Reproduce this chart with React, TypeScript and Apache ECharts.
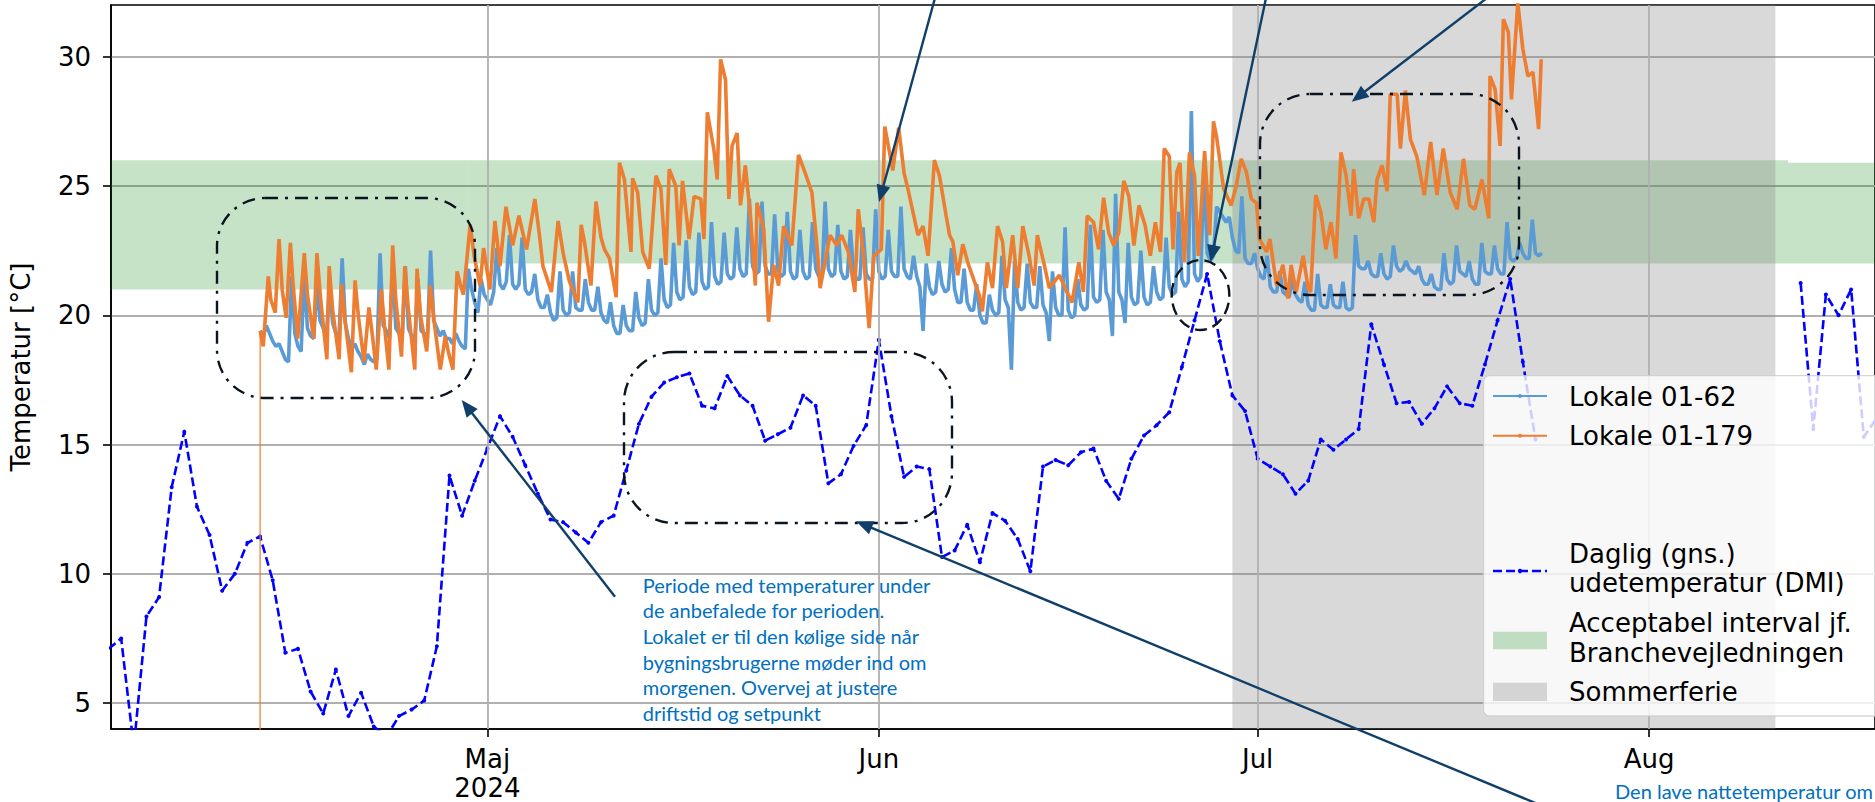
import React, { useEffect, useRef } from "react";
import * as echarts from "echarts";

// ---------- DATA ----------
// Daily mean outdoor temperature (DMI), first segment from 2024-04-01, second from 2024-08-13
const DMI_SEG1_START = [2024, 3, 1];
const DMI_SEG1 = [
  7.1, 7.5, 3.3, 8.35, 9.1, 13.35, 15.5, 12.6, 11.5, 9.35,
  10.0, 11.2, 11.45, 9.75, 6.95, 7.1, 5.45, 4.6, 6.3, 4.5,
  5.4, 4.1, 3.7, 4.5, 4.75, 5.1, 7.2, 13.8, 12.25, 13.6,
  14.85, 16.1, 15.3, 14.2, 13.1, 12.1, 12.0, 11.6, 11.2, 12.0,
  12.25, 14.0, 15.8, 16.85, 17.4, 17.6, 17.75, 16.5, 16.4, 17.65,
  16.9, 16.5, 15.15, 15.4, 15.65, 16.9, 16.5, 13.5, 13.85, 14.95, 15.75,
  19.05, 16.1, 13.75, 14.15, 14.05, 10.65, 10.9, 11.9, 10.45, 12.35,
  12.05, 11.35, 10.1, 14.15, 14.4, 14.2, 14.7, 14.85, 13.6, 12.9,
  14.45, 15.35, 15.75, 16.25, 18.0, 19.8, 21.6, 19.0, 16.9, 16.3,
  14.45, 14.15, 13.85, 13.1, 13.6, 15.2, 14.8, 15.2, 15.6, 19.65,
  18.1, 16.6, 16.65, 15.8, 16.4, 17.25, 16.6, 16.5, 18.1, 19.8,
  21.4, 18.2, 15.2,
];
const DMI_SEG2_START = [2024, 7, 13];
const DMI_SEG2 = [21.25, 15.6, 20.8, 20.0, 21.0, 15.3, 16.0];

// Room 01-62: values at 00, 06, 12, 18 h for each day from 2024-04-13
const ROOM_START = [2024, 3, 13];
const BLUE_HOURS = [0, 6, 12, 18];
const BLUE_ROWS = [
  [19.4, 19.2, 19.6, 19.3], [19.0, 18.8, 18.9, 18.6], [18.3, 18.2, 21.5, 19.3], [18.8, 18.6, 21.6, 19.5],
  [19.2, 19.1, 21.2, 19.8], [19.5, 19.2, 21.2, 19.7], [19.3, 19.1, 22.2, 19.7], [19.1, 18.7, 18.9, 18.6],
  [18.4, 18.1, 18.5, 18.3], [18.2, 18.3, 22.4, 19.6], [19.4, 19.1, 21.9, 19.5], [19.3, 19.0, 21.9, 19.5],
  [19.2, 19.0, 21.4, 19.4], [19.3, 19.1, 22.5, 19.8], [19.5, 19.2, 19.4, 19.1], [19.1, 18.9, 19.3, 19.0],
  [18.8, 18.7, 21.8, 21.0], [20.5, 20.1, 21.4, 20.8], [20.6, 20.4, 20.9, 22.6], [21.2, 21.0, 21.3, 23.1],
  [21.2, 21.0, 21.2, 23.0], [21.0, 20.8, 20.9, 21.6], [20.6, 20.3, 20.3, 20.8], [20.1, 19.8, 19.9, 21.7],
  [20.2, 20.0, 20.1, 21.7], [20.3, 20.2, 20.2, 21.4], [20.5, 20.2, 20.2, 21.1], [20.1, 19.8, 19.7, 20.5],
  [19.6, 19.3, 19.3, 20.4], [19.6, 19.4, 19.4, 20.9], [19.9, 19.6, 19.7, 21.4], [20.2, 20.0, 20.1, 22.2],
  [20.6, 20.3, 20.4, 22.8], [20.9, 20.6, 20.7, 22.9], [21.1, 20.8, 20.9, 23.2], [21.3, 21.0, 21.1, 23.6],
  [21.5, 21.2, 21.3, 23.2], [21.6, 21.4, 21.5, 23.4], [21.8, 21.5, 21.6, 24.5], [21.9, 21.6, 21.7, 24.4],
  [21.9, 21.6, 21.6, 23.9], [21.8, 21.5, 21.6, 24.0], [21.7, 21.4, 21.5, 23.3], [21.7, 21.4, 21.5, 23.6],
  [21.8, 21.5, 21.5, 24.4], [21.8, 21.5, 21.6, 23.5], [21.7, 21.4, 21.5, 23.3], [21.7, 21.4, 21.4, 23.4],
  [21.6, 21.4, 21.4, 24.1], [21.7, 21.4, 21.5, 23.3], [21.7, 21.5, 21.5, 24.2], [21.8, 21.5, 21.4, 22.3],
  [21.5, 21.1, 19.4, 22.0], [21.1, 20.8, 20.9, 22.1], [21.2, 20.9, 21.0, 22.6], [21.0, 20.5, 20.5, 21.8],
  [20.5, 20.2, 20.2, 21.2], [20.0, 19.7, 19.7, 20.8], [20.2, 20.0, 20.1, 22.3], [20.6, 20.3, 17.9, 22.1],
  [20.5, 20.2, 20.3, 22.0], [20.5, 20.3, 20.3, 21.9], [20.4, 20.1, 19.0, 21.7], [20.3, 20.0, 20.0, 23.4],
  [20.2, 19.9, 20.0, 21.4], [20.4, 20.2, 20.3, 23.5], [20.7, 20.5, 20.6, 23.3], [20.9, 20.6, 19.2, 24.7],
  [20.9, 20.6, 19.7, 22.8], [20.7, 20.4, 20.5, 22.5], [20.7, 20.4, 20.5, 21.9], [20.9, 20.6, 20.7, 23.0],
  [21.1, 20.8, 20.9, 24.0], [21.4, 21.1, 21.3, 27.9], [21.6, 21.3, 21.5, 25.9], [22.4, 22.1, 22.3, 24.2],
  [24.0, 23.8, 23.6, 23.8], [23.0, 22.5, 22.4, 24.6], [22.2, 22.0, 22.0, 22.4], [21.8, 21.5, 21.4, 22.3],
  [21.1, 20.9, 20.9, 21.7], [20.9, 20.8, 20.7, 21.4], [20.8, 20.6, 20.5, 21.3], [20.4, 20.2, 20.2, 21.6],
  [20.4, 20.3, 20.3, 21.2], [20.4, 20.3, 20.3, 21.3], [20.3, 20.2, 20.3, 23.1], [21.9, 21.8, 21.8, 22.1],
  [21.6, 21.5, 21.5, 22.4], [21.6, 21.4, 21.5, 22.7], [21.9, 21.7, 21.8, 22.1], [21.8, 21.7, 21.6, 21.9],
  [21.4, 21.2, 21.2, 21.6], [21.1, 21.0, 21.0, 22.4], [21.4, 21.2, 21.3, 22.7], [21.7, 21.6, 21.5, 22.1],
  [21.4, 21.2, 21.2, 22.8], [21.7, 21.6, 21.6, 22.7], [21.8, 21.6, 21.6, 23.6], [22.2, 22.1, 22.2, 22.8],
  [22.4, 22.2, 22.2, 23.7], [22.4, 22.3, 22.4],
];

// Room 01-179: [day offset from 2024-04-13, value] at the turning points of the curve
const ORANGE_POINTS = [
  [0.0, 0.5], [0.01, 19.4], [0.25, 18.8], [0.65, 21.5], [0.85, 20.6], [1.2, 20.1], [1.5, 22.95], [1.75, 21.0],
  [2.06, 19.9], [2.4, 22.8], [2.6, 21.3], [2.98, 19.1], [3.5, 22.4], [3.75, 20.8], [4.24, 19.1], [4.5, 22.4],
  [4.8, 20.6], [5.29, 18.3], [5.47, 21.9], [5.75, 20.2], [6.26, 18.3], [6.45, 21.2], [6.7, 19.9], [7.23, 17.8],
  [7.52, 21.35], [7.8, 19.9], [8.23, 18.2], [8.62, 20.3], [8.9, 19.2], [9.2, 17.9], [9.6, 21.0], [9.85, 19.6],
  [10.2, 17.9], [10.5, 22.7], [10.75, 20.6], [11.2, 18.4], [11.46, 21.9], [11.75, 20.2], [12.25, 17.9], [12.43, 21.8],
  [12.7, 20.0], [13.2, 18.6], [13.48, 21.15], [13.8, 19.7], [14.27, 17.9], [14.67, 19.2], [14.9, 18.6], [15.27, 17.9],
  [15.6, 21.7], [15.85, 21.2], [16.1, 20.8], [16.64, 23.5], [16.95, 22.3], [17.42, 21.15], [17.7, 22.6], [18.2, 21.0],
  [18.6, 23.65], [19.0, 21.9], [19.47, 24.2], [20.0, 22.7], [20.5, 23.85], [21.1, 22.55], [21.76, 24.5], [22.1, 23.2],
  [22.4, 21.9], [23.07, 20.9], [23.6, 23.65], [24.0, 22.4], [24.5, 21.3], [25.17, 20.5], [25.43, 23.5], [25.7, 22.8],
  [26.2, 21.15], [26.6, 24.4], [27.0, 23.0], [27.27, 22.55], [27.67, 22.2], [28.2, 20.7], [28.46, 25.9], [28.85, 25.25],
  [29.37, 22.45], [29.5, 25.3], [29.9, 24.75], [30.3, 22.45], [30.82, 21.8], [31.35, 25.4], [31.74, 24.9], [32.13, 21.95],
  [32.4, 25.65], [32.92, 25.0], [33.18, 22.7], [33.45, 25.2], [33.97, 22.95], [34.37, 24.6], [34.9, 24.5], [35.15, 22.95],
  [35.42, 27.85], [35.94, 26.4], [36.2, 25.25], [36.47, 29.9], [36.86, 29.1], [37.12, 24.5], [37.38, 26.55], [37.78, 27.05],
  [38.04, 24.25], [38.43, 25.8], [38.83, 23.85], [39.22, 21.15], [39.35, 24.35], [39.88, 23.35], [40.27, 19.75], [40.67, 21.95],
  [41.06, 21.15], [41.46, 23.45], [42.11, 22.7], [42.64, 26.2], [43.17, 25.5], [43.7, 24.75], [44.1, 22.7], [44.35, 21.05],
  [45.14, 23.1], [45.67, 22.7], [46.06, 23.1], [46.58, 22.45], [47.1, 20.9], [47.37, 24.1], [47.76, 22.45], [48.23, 19.5],
  [48.6, 22.3], [49.2, 22.55], [49.47, 27.3], [49.7, 26.7], [50.1, 25.6], [50.57, 27.25], [51.0, 25.5], [51.3, 24.9],
  [51.7, 24.0], [52.1, 23.1], [52.5, 23.45], [52.9, 22.3], [53.4, 26.0], [53.8, 25.4], [54.33, 23.85], [54.6, 23.1],
  [54.86, 22.85], [55.25, 21.55], [55.65, 22.75], [56.04, 22.05], [56.57, 21.3], [56.97, 20.75], [57.2, 20.15], [57.6, 22.05],
  [58.0, 21.05], [58.4, 23.45], [58.8, 22.85], [59.1, 21.05], [59.6, 23.1], [60.0, 21.05], [60.4, 23.45], [60.9, 22.3],
  [61.3, 21.15], [61.55, 23.1], [62.1, 21.95], [62.5, 21.05], [63.3, 21.55], [63.8, 21.0], [64.3, 20.5], [64.84, 22.05],
  [65.2, 20.9], [65.5, 23.85], [66.0, 23.6], [66.4, 22.55], [66.8, 24.55], [67.2, 23.2], [67.6, 22.7], [68.0, 23.2],
  [68.4, 25.2], [68.8, 24.6], [69.2, 22.7], [69.6, 24.25], [70.1, 23.45], [70.5, 22.3], [70.9, 23.6], [71.3, 22.45],
  [71.6, 26.45], [72.0, 26.15], [72.3, 22.55], [72.6, 25.55], [72.85, 25.9], [73.2, 22.05], [73.6, 26.3], [74.0, 25.4],
  [74.3, 22.3], [74.8, 26.35], [75.2, 23.1], [75.5, 27.5], [75.75, 26.9], [76.3, 24.9], [76.9, 24.25], [77.3, 25.0],
  [77.7, 26.05], [78.1, 25.55], [78.5, 24.5], [78.9, 24.35], [79.15, 22.95], [79.7, 22.45], [79.97, 22.95], [80.5, 21.15],
  [81.0, 21.95], [81.4, 20.65], [81.65, 21.95], [82.05, 20.9], [82.6, 22.3], [83.0, 21.05], [83.2, 20.9], [83.6, 24.65],
  [84.0, 24.0], [84.4, 22.55], [84.8, 23.6], [85.2, 22.2], [85.6, 26.3], [86.0, 25.4], [86.4, 23.85], [86.6, 25.65],
  [87.0, 23.75], [87.4, 24.5], [87.8, 24.5], [88.2, 23.6], [88.45, 25.25], [88.85, 25.8], [89.25, 24.8], [89.5, 28.55],
  [90.05, 28.55], [90.3, 26.45], [90.7, 28.7], [91.1, 26.8], [91.6, 26.15], [92.2, 24.65], [92.7, 26.7], [93.2, 24.65],
  [93.7, 26.45], [94.25, 24.75], [94.8, 24.1], [95.3, 26.05], [95.8, 24.25], [96.2, 24.1], [96.76, 25.25], [97.3, 23.75],
  [97.4, 29.25], [97.8, 28.75], [98.2, 26.55], [98.46, 31.45], [98.85, 30.95], [99.1, 28.35], [99.6, 32.1], [100.0, 30.3],
  [100.4, 29.25], [100.8, 29.4], [101.25, 27.2], [101.45, 29.9],
];

// Acceptable interval (from, to, low, high) and summer holiday
const BAND_FROM = [[2024, 3, 1, 0], [2024, 3, 29, 12], [2024, 7, 12, 0]];
const BAND_TO = [[2024, 3, 29, 12], [2024, 7, 12, 0], [2024, 7, 25, 0]];
const BAND_LOW = [21, 22, 22];
const BAND_HIGH = [26, 26, 25.9];
const SUMMER_FROM = [2024, 5, 29];
const SUMMER_TO = [2024, 7, 11];

const MONTH_TICKS = [[2024, 4, 1], [2024, 5, 1], [2024, 6, 1], [2024, 7, 1]];
const MONTH_LABELS = ["Maj\n2024", "Jun", "Jul", "Aug"];
const Y_TICKS = [5, 10, 15, 20, 25, 30];

const LEGEND_NAMES = ["Lokale 01-62", "Lokale 01-179", "Daglig (gns.)", "udetemperatur (DMI)", "Acceptabel interval jf.", "Branchevejledningen", "Sommerferie"];
const NOTE_LINES = [
  "Periode med temperaturer under",
  "de anbefalede for perioden.",
  "Lokalet er til den kølige side når",
  "bygningsbrugerne møder ind om",
  "morgenen. Overvej at justere",
  "driftstid og setpunkt",
];
const NOTE_BOTTOM = "Den lave nattetemperatur om";

// ---------- helpers ----------
const DAY = 86400000;
const t = (a: number[]) => new Date(a[0], a[1], a[2], a[3] || 0).getTime();

const C_BLUE = "#5B9BD5";
const C_ORANGE = "#ED7D31";
const C_DMI = "#0000FF";
const C_ARROW = "#103F6A";
const C_BOX = "#0B1522";
const GREEN = "rgba(0,128,0,0.22)";
const GRAY = "rgba(128,128,128,0.3)";
const FONT = '"DejaVu Sans", sans-serif';
const NOTE_FONT = '20px Lato, "Open Sans", sans-serif';

function arrow(x1: number, y1: number, x2: number, y2: number) {
  const dx = x2 - x1, dy = y2 - y1;
  const len = Math.hypot(dx, dy);
  const ux = dx / len, uy = dy / len;
  const hl = 17, hw = 7;
  const bx = x2 - ux * hl, by = y2 - uy * hl;
  return [
    { type: "line", z: 100, silent: true, shape: { x1, y1, x2: bx + ux * 2, y2: by + uy * 2 }, style: { stroke: C_ARROW, lineWidth: 2.4 } },
    { type: "polygon", z: 101, silent: true, shape: { points: [[x2, y2], [bx - uy * hw, by + ux * hw], [bx + uy * hw, by - ux * hw]] }, style: { fill: C_ARROW } },
  ];
}

export default function App() {
  const ref = useRef<HTMLDivElement>(null);

  useEffect(() => {
    if (!ref.current) return;
    const chart = echarts.init(ref.current, undefined, { renderer: "svg" });

    const monthVals = MONTH_TICKS.map(t);
    const xMin = monthVals[0] - 29.806 * DAY;
    const xMax = xMin + (1773 / 12.692) * DAY;

    const dmi: any[] = [];
    const s1 = t(DMI_SEG1_START);
    DMI_SEG1.forEach((v, i) => dmi.push([s1 + i * DAY, v]));
    dmi.push([s1 + DMI_SEG1.length * DAY, null]);
    const s2 = t(DMI_SEG2_START);
    DMI_SEG2.forEach((v, i) => dmi.push([s2 + i * DAY, v]));

    const r0 = t(ROOM_START);
    const blue: any[] = [];
    BLUE_ROWS.forEach((row, d) => row.forEach((v, k) => blue.push([r0 + d * DAY + BLUE_HOURS[k] * 3600000, v])));
    const orange = ORANGE_POINTS.map(([d, v]) => [r0 + d * DAY, v]);

    const bandAreas: any[] = BAND_LOW.map((lo, i) => [
      { xAxis: t(BAND_FROM[i]), yAxis: lo, itemStyle: { color: GREEN } },
      { xAxis: t(BAND_TO[i]), yAxis: BAND_HIGH[i] },
    ]);
    bandAreas.push([{ xAxis: t(SUMMER_FROM), yAxis: 4, itemStyle: { color: GRAY } }, { xAxis: t(SUMMER_TO), yAxis: 32 }]);

    // legend (matplotlib style, drawn as graphic)
    const LX = 1493, LX2 = 1547, TX = 1569;
    const txt = (s: string, y: number) => ({
      type: "text", z: 201, silent: true, x: TX, y,
      style: { text: s, font: `26px ${FONT}`, fill: "#000", verticalAlign: "middle", align: "left" },
    });
    const legend = [
      { type: "rect", z: 200, silent: true, shape: { x: 1483.5, y: 375.7, width: 420, height: 340.3, r: 6 }, style: { fill: "rgba(255,255,255,0.8)", stroke: "rgba(204,204,204,0.8)", lineWidth: 1.3 } },
      { type: "line", z: 201, silent: true, shape: { x1: LX, y1: 396, x2: LX2, y2: 396 }, style: { stroke: C_BLUE, lineWidth: 2 } },
      { type: "circle", z: 201, silent: true, shape: { cx: 1520, cy: 396, r: 2 }, style: { fill: C_BLUE } },
      txt(LEGEND_NAMES[0], 396.5),
      { type: "line", z: 201, silent: true, shape: { x1: LX, y1: 435.7, x2: LX2, y2: 435.7 }, style: { stroke: C_ORANGE, lineWidth: 2 } },
      { type: "circle", z: 201, silent: true, shape: { cx: 1520, cy: 435.7, r: 2 }, style: { fill: C_ORANGE } },
      txt(LEGEND_NAMES[1], 435.8),
      { type: "line", z: 201, silent: true, shape: { x1: LX, y1: 571, x2: LX2, y2: 571 }, style: { stroke: C_DMI, lineWidth: 2.6, lineDash: [9, 4] } },
      { type: "circle", z: 201, silent: true, shape: { cx: 1520, cy: 571, r: 2.2 }, style: { fill: C_DMI } },
      txt(LEGEND_NAMES[2], 553.8),
      txt(LEGEND_NAMES[3], 583),
      { type: "rect", z: 201, silent: true, shape: { x: LX, y: 631.7, width: 54, height: 17.6 }, style: { fill: GREEN } },
      txt(LEGEND_NAMES[4], 622.8),
      txt(LEGEND_NAMES[5], 653.3),
      { type: "rect", z: 201, silent: true, shape: { x: LX, y: 682.7, width: 54, height: 18.3 }, style: { fill: GRAY } },
      txt(LEGEND_NAMES[6], 691.8),
    ];

    const dashDot = { fill: "none", stroke: C_BOX, lineWidth: 2.4, lineDash: [13, 7, 3, 7] };
    const annotations = [
      { type: "rect", z: 90, silent: true, shape: { x: 217, y: 198, width: 258, height: 200, r: 48 }, style: dashDot },
      { type: "rect", z: 90, silent: true, shape: { x: 624, y: 352, width: 328, height: 171, r: 50 }, style: dashDot },
      { type: "rect", z: 90, silent: true, shape: { x: 1260, y: 94, width: 259, height: 201, r: 50 }, style: dashDot },
      { type: "ellipse", z: 90, silent: true, shape: { cx: 1200.5, cy: 295, rx: 28.8, ry: 35 }, style: { fill: "none", stroke: C_BOX, lineWidth: 2.4, lineDash: [12, 6] } },
      ...arrow(615, 596.7, 461.7, 400),
      ...arrow(1545, 807, 856, 521.3),
      ...arrow(935, -2, 879, 202),
      ...arrow(1266, -2, 1210.5, 262),
      ...arrow(1487, -2, 1351.7, 101.7),
      ...NOTE_LINES.map((s, i) => ({
        type: "text", z: 102, silent: true, x: 642.7, y: 584.5 + i * 25.7,
        style: { text: s, font: NOTE_FONT, fill: "#0070C0", verticalAlign: "middle", align: "left" },
      })),
      {
        type: "text", z: 102, silent: true, x: 1615, y: 791,
        style: { text: NOTE_BOTTOM, font: NOTE_FONT, fill: "#0070C0", verticalAlign: "middle", align: "left" },
      },
    ];

    const option: any = {
      animation: false,
      backgroundColor: "#ffffff",
      grid: { left: 104, top: 5, width: 1773, height: 726.7, show: true, borderColor: "#000", borderWidth: 1.6, backgroundColor: "transparent", containLabel: false },
      xAxis: {
        type: "value",
        min: xMin,
        max: xMax,
        axisLine: { show: true, onZero: false, lineStyle: { color: "#000", width: 1.6 } },
        axisTick: { show: true, customValues: monthVals, length: 8, lineStyle: { color: "#000", width: 1.6 } },
        axisLabel: {
          customValues: monthVals,
          fontSize: 26,
          fontFamily: FONT,
          color: "#000",
          lineHeight: 29,
          margin: 15,
          formatter: (v: number) => {
            const i = monthVals.indexOf(v);
            return i >= 0 ? MONTH_LABELS[i] : "";
          },
        },
        splitLine: { show: false },
      },
      yAxis: {
        type: "value",
        min: 4,
        max: 32,
        name: "Temperatur [°C]",
        nameLocation: "middle",
        nameGap: 77,
        nameRotate: 90,
        nameTextStyle: { fontSize: 26, fontFamily: FONT, color: "#000" },
        axisLine: { show: true, lineStyle: { color: "#000", width: 1.6 } },
        axisTick: { show: true, customValues: Y_TICKS, length: 8, lineStyle: { color: "#000", width: 1.6 } },
        axisLabel: {
          customValues: Y_TICKS,
          fontSize: 26,
          fontFamily: FONT,
          color: "#000",
          margin: 20,
          formatter: (v: number) => (v % 5 === 0 ? String(v) : ""),
        },
        splitLine: { show: true, lineStyle: { color: "#b0b0b0", width: 1.8 } },
      },
      series: [
        {
          name: "bands",
          type: "line",
          data: [[xMin, null]],
          z: 1,
          silent: true,
          showSymbol: false,
          markArea: { silent: true, data: bandAreas },
          markLine: {
            silent: true,
            symbol: ["none", "none"],
            label: { show: false },
            lineStyle: { color: "#b0b0b0", width: 1.8, type: "solid" },
            data: monthVals.map((v) => ({ xAxis: v })),
          },
        },
        {
          name: "Daglig (gns.) udetemperatur (DMI)",
          type: "line",
          data: dmi,
          z: 3,
          connectNulls: false,
          showSymbol: true,
          symbol: "circle",
          symbolSize: 4,
          itemStyle: { color: C_DMI },
          lineStyle: { color: C_DMI, width: 2.6, type: [9, 4] },
        },
        {
          name: "Lokale 01-62",
          type: "line",
          data: blue,
          z: 4,
          showSymbol: false,
          lineStyle: { color: C_BLUE, width: 3.6 },
          itemStyle: { color: C_BLUE },
        },
        {
          name: "Lokale 01-179 (first reading)",
          type: "line",
          data: orange.slice(0, 2),
          z: 5,
          showSymbol: false,
          lineStyle: { color: C_ORANGE, width: 1.5, opacity: 0.8 },
          itemStyle: { color: C_ORANGE },
        },
        {
          name: "Lokale 01-179",
          type: "line",
          data: orange.slice(1),
          z: 5,
          showSymbol: false,
          lineStyle: { color: C_ORANGE, width: 3.6 },
          itemStyle: { color: C_ORANGE },
        },
      ],
      graphic: { elements: [...annotations, ...legend] },
    };

    chart.setOption(option);
    return () => chart.dispose();
  }, []);

  return <div ref={ref} style={{ position: "fixed", left: 0, top: 0, width: 1875, height: 802, background: "#fff" }} />;
}
